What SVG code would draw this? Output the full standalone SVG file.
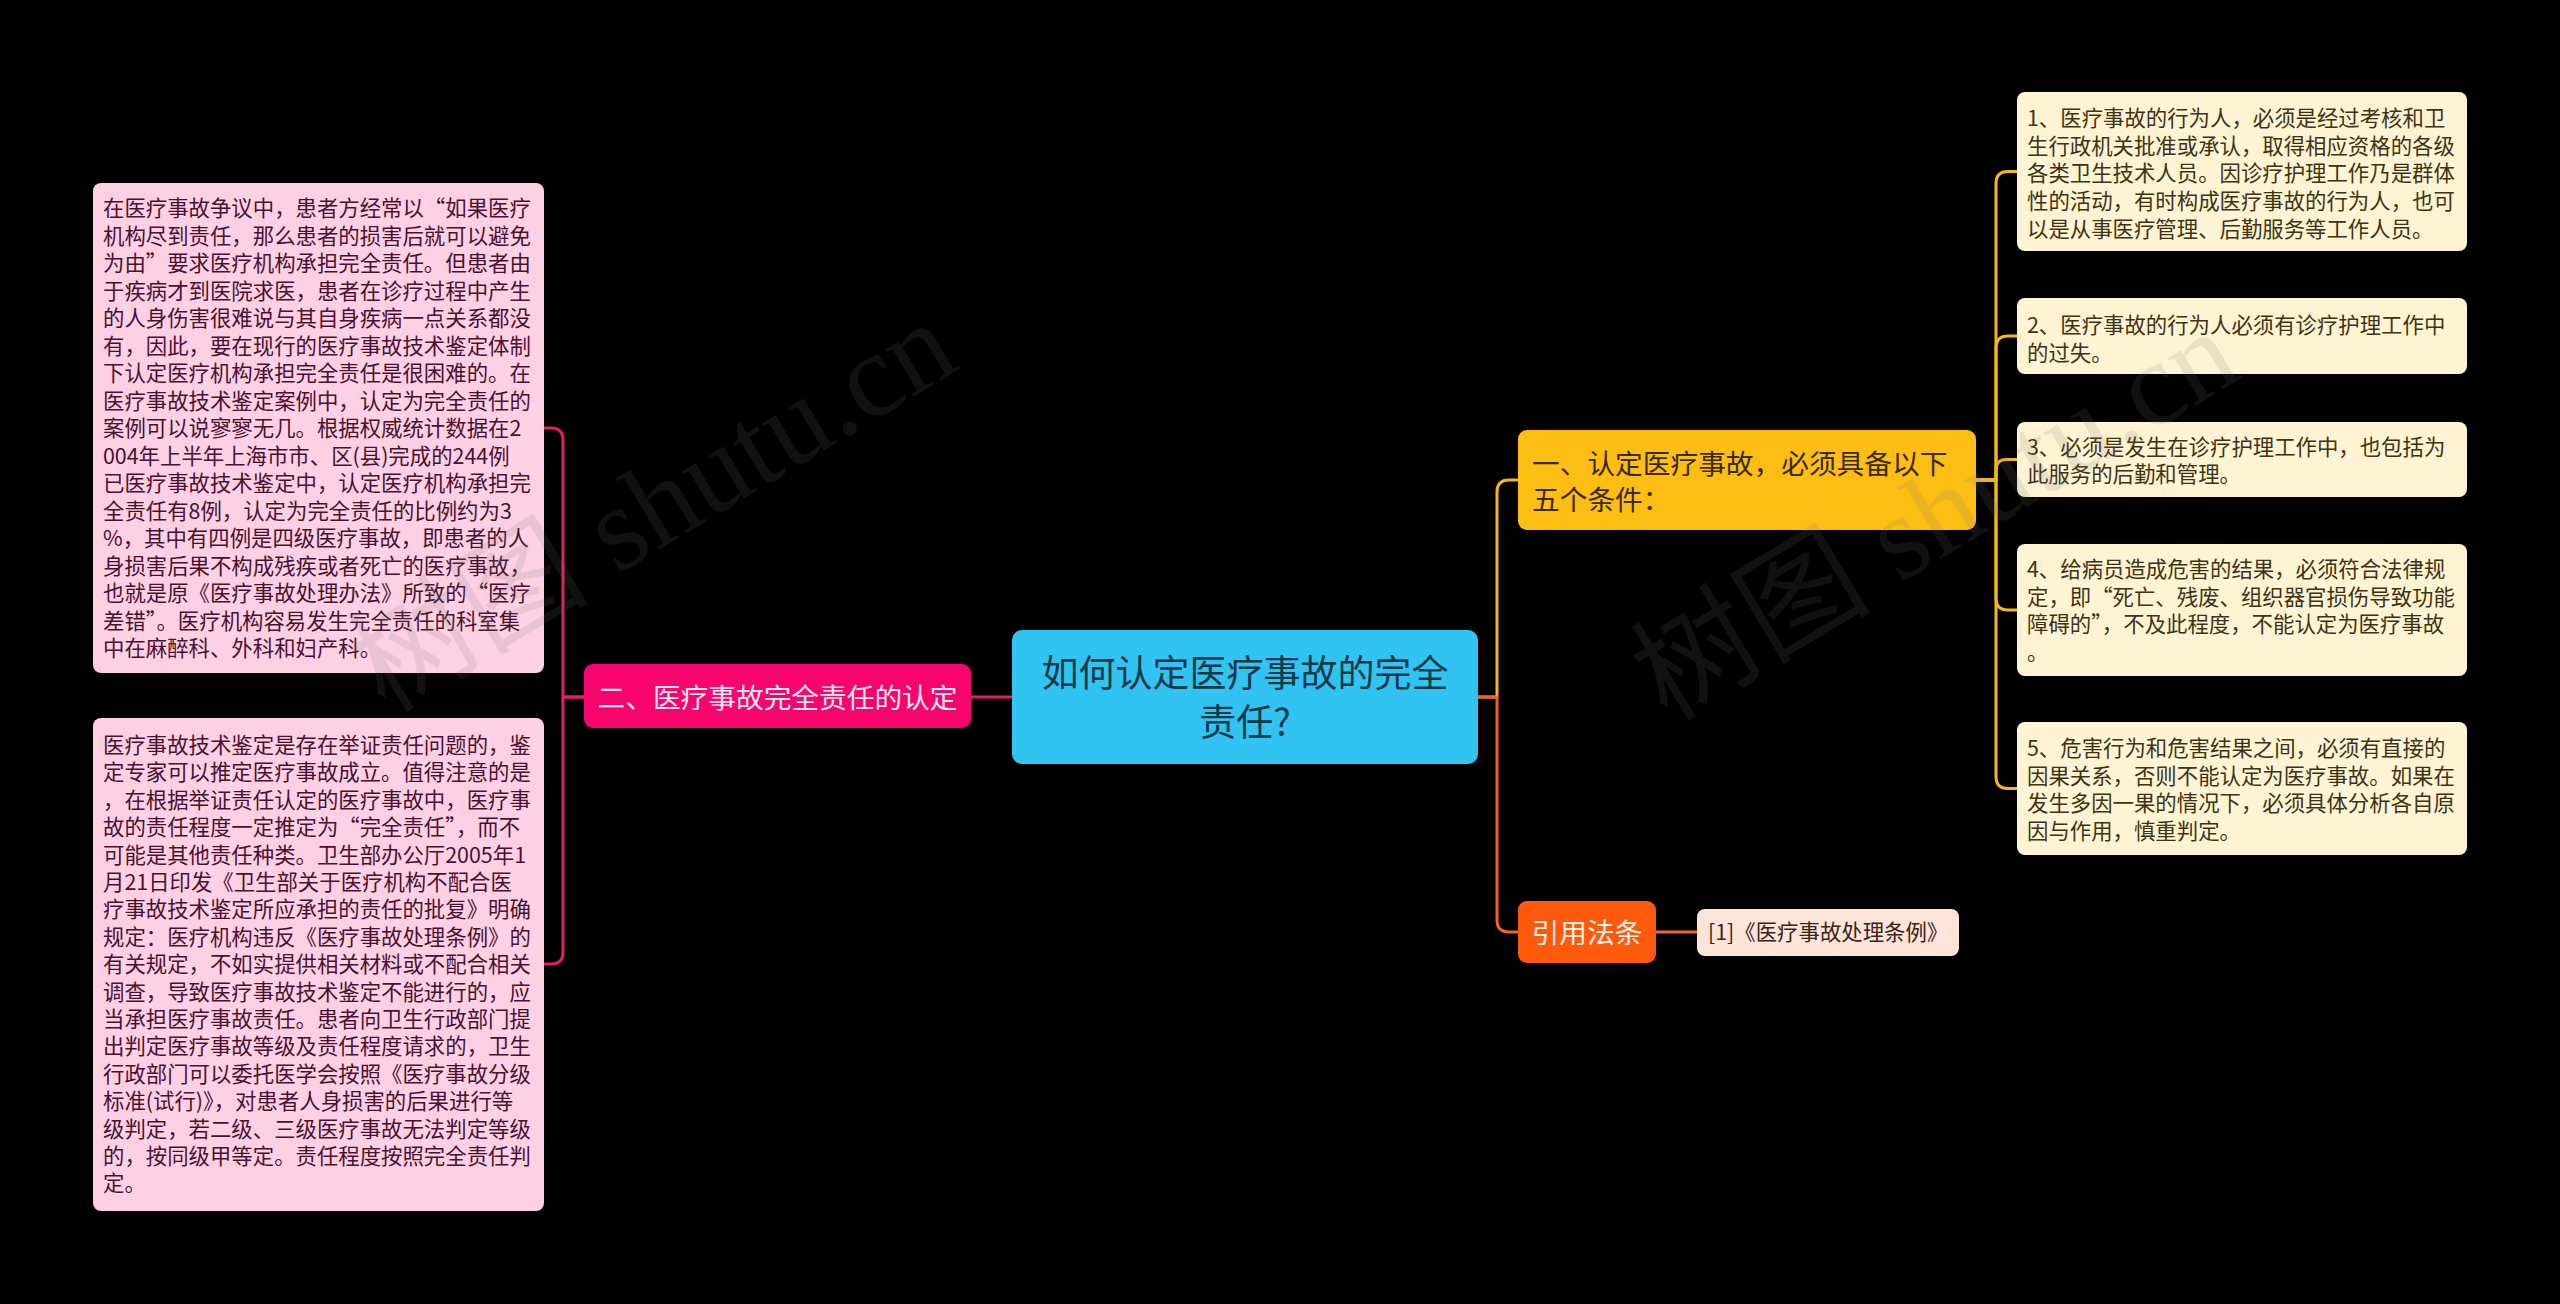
<svg xmlns="http://www.w3.org/2000/svg" width="2560" height="1304" viewBox="0 0 2560 1304">
<style>
.t{font-family:"Noto Sans CJK SC","Noto Sans",sans-serif}
.s{font-size:21.4px}
.m{font-size:27.7px}
.lp{fill:#fdd0e4}
.lt{fill:#4a1030}
.rb{fill:#fef3d2}
.rt{fill:#3d3314}
.c{fill:none;stroke-width:3;stroke-linecap:round;stroke-linejoin:round}
.pk{stroke:#e0206a}
.yl{stroke:#f4b81c}
.or{stroke:#f06322}
.wm{font-family:"Liberation Serif","Noto Sans CJK SC",serif;font-size:120px;fill:#777;opacity:.14}
</style>
<rect x="0" y="0" width="2560" height="1304" fill="#000"/>
<g id="connectors">
<path class="c pk" d="M1012,697 H971"/>
<path class="c pk" d="M584,697 H563 V440 Q563,428 551,428 H543"/>
<path class="c pk" d="M584,697 H563 V952 Q563,964 551,964 H543"/>
<path class="c yl" d="M1478,697 H1497 V492 Q1497,480 1509,480 H1518"/>
<path class="c or" d="M1478,697 H1497 V920 Q1497,932 1509,932 H1518"/>
<path class="c or" d="M1656,932 H1697"/>
<path class="c yl" d="M1976,480 H1996 V183.5 Q1996,171.5 2008,171.5 H2017"/>
<path class="c yl" d="M1976,480 H1996 V348 Q1996,336 2008,336 H2017"/>
<path class="c yl" d="M1976,480 H1996 V470 Q1996,459.5 2006.5,459.5 H2017"/>
<path class="c yl" d="M1976,480 H1996 V598 Q1996,610 2008,610 H2017"/>
<path class="c yl" d="M1976,480 H1996 V776.5 Q1996,788.5 2008,788.5 H2017"/>
</g>
<g id="center">
<rect x="1012" y="630" width="466" height="134" rx="10" fill="#31c3f2"/>
<text class="t" font-size="37" fill="#143a48" text-anchor="middle"><tspan x="1245" y="687">如何认定医疗事故的完全</tspan><tspan x="1245" y="736">责任?</tspan></text>
</g>
<g id="branch-left">
<rect x="584" y="664" width="387" height="64" rx="9" fill="#f7046c"/>
<text class="t m" fill="#ffe8f2" text-anchor="middle" x="777.5" y="707.5">二、医疗事故完全责任的认定</text>
</g>
<g id="left-1">
<rect class="lp" x="93" y="183" width="451" height="490" rx="8"/>
<text class="t s lt"><tspan x="103" y="216">在医疗事故争议中，患者方经常以“如果医疗</tspan><tspan x="103" dy="27.5">机构尽到责任，那么患者的损害后就可以避免</tspan><tspan x="103" dy="27.5">为由”要求医疗机构承担完全责任。但患者由</tspan><tspan x="103" dy="27.5">于疾病才到医院求医，患者在诊疗过程中产生</tspan><tspan x="103" dy="27.5">的人身伤害很难说与其自身疾病一点关系都没</tspan><tspan x="103" dy="27.5">有，因此，要在现行的医疗事故技术鉴定体制</tspan><tspan x="103" dy="27.5">下认定医疗机构承担完全责任是很困难的。在</tspan><tspan x="103" dy="27.5">医疗事故技术鉴定案例中，认定为完全责任的</tspan><tspan x="103" dy="27.5">案例可以说寥寥无几。根据权威统计数据在2</tspan><tspan x="103" dy="27.5">004年上半年上海市市、区(县)完成的244例</tspan><tspan x="103" dy="27.5">已医疗事故技术鉴定中，认定医疗机构承担完</tspan><tspan x="103" dy="27.5">全责任有8例，认定为完全责任的比例约为3</tspan><tspan x="103" dy="27.5">%，其中有四例是四级医疗事故，即患者的人</tspan><tspan x="103" dy="27.5">身损害后果不构成残疾或者死亡的医疗事故，</tspan><tspan x="103" dy="27.5">也就是原《医疗事故处理办法》所致的“医疗</tspan><tspan x="103" dy="27.5">差错”。医疗机构容易发生完全责任的科室集</tspan><tspan x="103" dy="27.5">中在麻醉科、外科和妇产科。</tspan></text>
</g>
<g id="left-2">
<rect class="lp" x="93" y="718" width="451" height="493" rx="8"/>
<text class="t s lt"><tspan x="103" y="753">医疗事故技术鉴定是存在举证责任问题的，鉴</tspan><tspan x="103" dy="27.4">定专家可以推定医疗事故成立。值得注意的是</tspan><tspan x="103" dy="27.4">，在根据举证责任认定的医疗事故中，医疗事</tspan><tspan x="103" dy="27.4">故的责任程度一定推定为“完全责任”，而不</tspan><tspan x="103" dy="27.4">可能是其他责任种类。卫生部办公厅2005年1</tspan><tspan x="103" dy="27.4">月21日印发《卫生部关于医疗机构不配合医</tspan><tspan x="103" dy="27.4">疗事故技术鉴定所应承担的责任的批复》明确</tspan><tspan x="103" dy="27.4">规定：医疗机构违反《医疗事故处理条例》的</tspan><tspan x="103" dy="27.4">有关规定，不如实提供相关材料或不配合相关</tspan><tspan x="103" dy="27.4">调查，导致医疗事故技术鉴定不能进行的，应</tspan><tspan x="103" dy="27.4">当承担医疗事故责任。患者向卫生行政部门提</tspan><tspan x="103" dy="27.4">出判定医疗事故等级及责任程度请求的，卫生</tspan><tspan x="103" dy="27.4">行政部门可以委托医学会按照《医疗事故分级</tspan><tspan x="103" dy="27.4">标准(试行)》，对患者人身损害的后果进行等</tspan><tspan x="103" dy="27.4">级判定，若二级、三级医疗事故无法判定等级</tspan><tspan x="103" dy="27.4">的，按同级甲等定。责任程度按照完全责任判</tspan><tspan x="103" dy="27.4">定。</tspan></text>
</g>
<g id="branch-right">
<rect x="1518" y="430" width="458" height="100" rx="9" fill="#fdbe14"/>
<text class="t m" fill="#3a2a00"><tspan x="1532" y="473.5">一、认定医疗事故，必须具备以下</tspan><tspan x="1532" y="509.5">五个条件：</tspan></text>
</g>
<g id="right-1">
<rect class="rb" x="2017" y="92" width="450" height="159" rx="8"/>
<text class="t s rt"><tspan x="2027" y="126">1、医疗事故的行为人，必须是经过考核和卫</tspan><tspan x="2027" dy="27.7">生行政机关批准或承认，取得相应资格的各级</tspan><tspan x="2027" dy="27.7">各类卫生技术人员。因诊疗护理工作乃是群体</tspan><tspan x="2027" dy="27.7">性的活动，有时构成医疗事故的行为人，也可</tspan><tspan x="2027" dy="27.7">以是从事医疗管理、后勤服务等工作人员。</tspan></text>
</g>
<g id="right-2">
<rect class="rb" x="2017" y="298" width="450" height="76" rx="8"/>
<text class="t s rt"><tspan x="2027" y="333">2、医疗事故的行为人必须有诊疗护理工作中</tspan><tspan x="2027" dy="27.5">的过失。</tspan></text>
</g>
<g id="right-3">
<rect class="rb" x="2017" y="422" width="450" height="75" rx="8"/>
<text class="t s rt"><tspan x="2027" y="455">3、必须是发生在诊疗护理工作中，也包括为</tspan><tspan x="2027" dy="27">此服务的后勤和管理。</tspan></text>
</g>
<g id="right-4">
<rect class="rb" x="2017" y="544" width="450" height="132" rx="8"/>
<text class="t s rt"><tspan x="2027" y="577">4、给病员造成危害的结果，必须符合法律规</tspan><tspan x="2027" dy="27.5">定，即“死亡、残废、组织器官损伤导致功能</tspan><tspan x="2027" dy="27.5">障碍的”，不及此程度，不能认定为医疗事故</tspan><tspan x="2027" dy="27.5">。</tspan></text>
</g>
<g id="right-5">
<rect class="rb" x="2017" y="722" width="450" height="133" rx="8"/>
<text class="t s rt"><tspan x="2027" y="756">5、危害行为和危害结果之间，必须有直接的</tspan><tspan x="2027" dy="27.7">因果关系，否则不能认定为医疗事故。如果在</tspan><tspan x="2027" dy="27.7">发生多因一果的情况下，必须具体分析各自原</tspan><tspan x="2027" dy="27.7">因与作用，慎重判定。</tspan></text>
</g>
<g id="branch-law">
<rect x="1518" y="901" width="138" height="62" rx="9" fill="#fd5a0c"/>
<text class="t m" fill="#fff0e6" text-anchor="middle" x="1587" y="942.5">引用法条</text>
</g>
<g id="law-1">
<rect x="1697" y="909" width="262" height="47" rx="8" fill="#fde4d8"/>
<text class="t s" fill="#3a2218" x="1708" y="940">[1]《医疗事故处理条例》</text>
</g>
<g id="watermarks">
<text class="wm" text-anchor="middle" dominant-baseline="central" x="653" y="506" transform="rotate(-31 653 506)">树图 shutu.cn</text>
<text class="wm" text-anchor="middle" dominant-baseline="central" x="1935" y="515" transform="rotate(-31 1935 515)">树图 shutu.cn</text>
</g>
</svg>
